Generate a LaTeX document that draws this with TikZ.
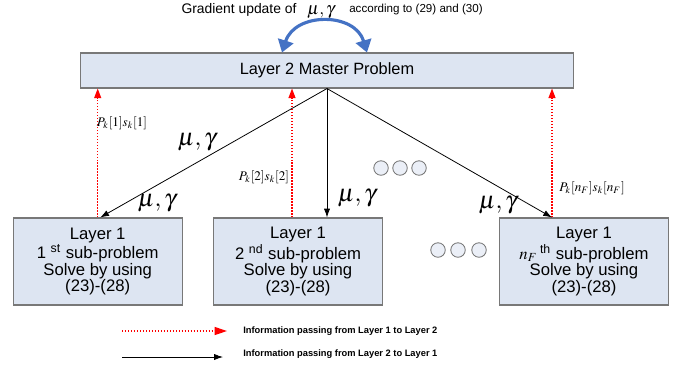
\documentclass[tikz,border=0pt]{standalone}
\usepackage{amsmath, amssymb}
\usepackage{mathptmx}
\usepackage{fontspec}
\setmainfont{Liberation Sans}
\usetikzlibrary{arrows.meta}
\definecolor{boxfill}{RGB}{221,229,242}
\definecolor{boxline}{RGB}{120,120,120}
\definecolor{arcblue}{RGB}{68,114,196}
\tikzset{
	boxnode/.style={draw=boxline, fill=boxfill, line width=0.6pt, align=center, inner sep=0pt, minimum width=3.38cm, minimum height=1.74cm, font=\fontsize{9.5}{9.4}\selectfont},
	masternode/.style={draw=boxline, fill=boxfill, line width=0.6pt, inner sep=0pt, minimum width=9.88cm, minimum height=0.7cm, font=\fontsize{9.3}{10}\selectfont},
	uparrow/.style={red, densely dotted, line width=0.7pt, -{Triangle[length=5.5pt, width=4pt]}},
	downarrow/.style={black, line width=0.45pt, -{Latex[length=5pt, width=3.5pt]}},
	mulabel/.style={inner sep=0pt, font=\fontsize{14}{14}\selectfont},
	plabel/.style={inner sep=0pt, font=\fontsize{7.5}{8}\selectfont},
	dotcircle/.style={circle, draw=boxline, fill=boxfill!60, line width=0.5pt, inner sep=0pt, minimum size=0.29cm},
	legendtext/.style={inner sep=0pt, anchor=west, font=\bfseries\fontsize{5.3}{6}\selectfont}
}
\begin{document}
\begin{tikzpicture}[x=0.02cm, y=-0.02cm]
	\useasboundingbox (0,0) rectangle (682,369);
	\node[masternode] (master) at (327,70.5) {Layer 2 Master Problem};
	\node[boxnode] (sub1) at (97.7,261.5) {Layer 1\\1 \textsuperscript{st} sub-problem\\Solve by using\\(23)-(28)};
	\node[boxnode] (sub2) at (298,261.5) {Layer 1\\2 \textsuperscript{nd} sub-problem\\Solve by using\\(23)-(28)};
	\node[boxnode] (subn) at (584,261.5) {Layer 1\\$n_{F}$\,\textsuperscript{th} sub-problem\\Solve by using\\(23)-(28)};
	\draw[uparrow] (sub1.north) -- (sub1.north |- master.south);
	\draw[uparrow] ([xshift=-0.12cm]sub2.north) -- ([xshift=-0.12cm]sub2.north |- master.south);
	\draw[uparrow] ([xshift=-0.64cm]subn.north) -- ([xshift=-0.64cm]subn.north |- master.south);
	\draw[downarrow] (master.south) -- ([xshift=0.05cm]sub1.north);
	\draw[downarrow] (master.south) -- (master.south |- sub2.north);
	\draw[downarrow] (master.south) -- ([xshift=-0.64cm]subn.north);
	\node[mulabel] (mu1) at (197,142) {$\mu,\gamma$};
	\node[mulabel] (mu2) at (157,203) {$\mu,\gamma$};
	\node[mulabel] (mu3) at (357,198) {$\mu,\gamma$};
	\node[mulabel] (mu4) at (498,205) {$\mu,\gamma$};
	\node[plabel] (p1) at (122,123) {$P_{k}[1]s_{k}[1]$};
	\node[plabel] (p2) at (264,177) {$P_{k}[2]s_{k}[2]$};
	\node[plabel] (pn) at (592,188) {$P_{k}[n_{F}]s_{k}[n_{F}]$};
	\foreach \cx [count=\i] in {381,400,419}
		\node[dotcircle] (dotA\i) at (\cx,168) {};
	\foreach \cx [count=\i] in {438,458,479}
		\node[dotcircle] (dotB\i) at (\cx,250) {};
	\node[inner sep=0pt, font=\fontsize{7.9}{8}\selectfont] (grad) at (239,10) {Gradient update of};
	\node[inner sep=0pt, font=\fontsize{10}{10}\selectfont] (topmu) at (321,12) {$\mu,\gamma$};
	\node[inner sep=0pt, font=\fontsize{6.6}{7}\selectfont] (accord) at (416,9) {according to (29) and (30)};
	\draw[arcblue, line width=1.8pt, {Triangle[length=7pt, width=9pt]}-{Triangle[length=7pt, width=9pt]}] ([xshift=-0.9cm]master.north) .. controls (295,12) and (355,12) .. ([xshift=0.8cm]master.north);
	\coordinate (legA) at (122,331);
	\coordinate (legB) at (227,331);
	\coordinate (legC) at (122,357);
	\coordinate (legD) at (223,357);
	\draw[uparrow, -{Triangle[length=7pt, width=4.5pt]}] (legA) -- (legB);
	\draw[downarrow] (legC) -- (legD);
	\node[legendtext] (leg1) at (243,331) {Information passing from Layer 1 to Layer 2};
	\node[legendtext] (leg2) at (243,354) {Information passing from Layer 2 to Layer 1};
\end{tikzpicture}
\end{document}
